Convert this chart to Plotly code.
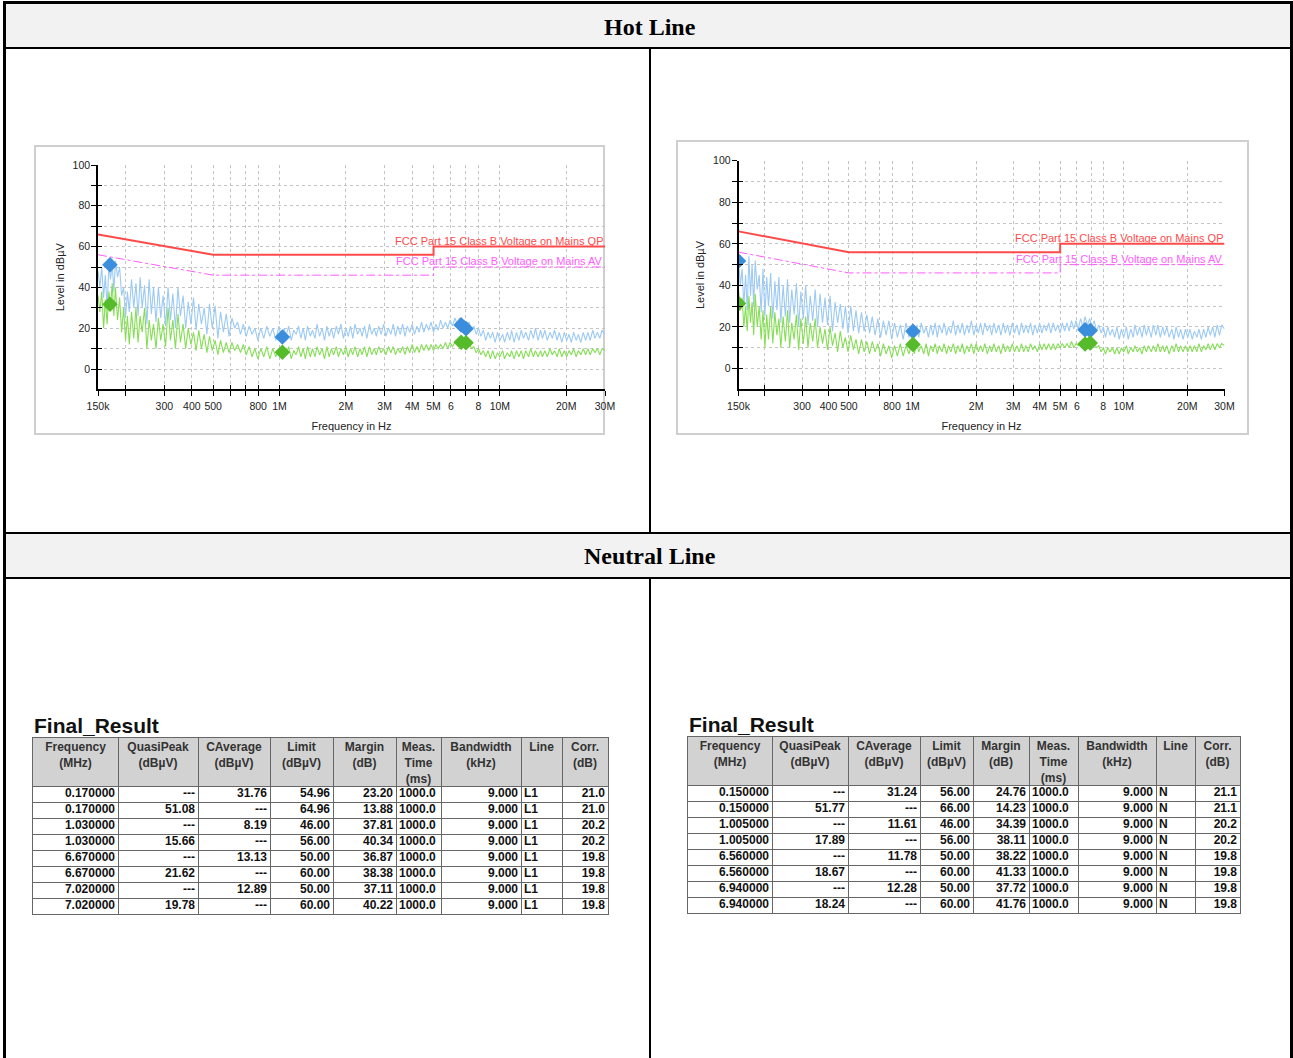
import math
import plotly.graph_objects as go

W, H = 1293, 1058

# ---------------- data ----------------
freq_mhz = [
    0.150, 0.153, 0.156, 0.159, 0.162, 0.165, 0.168, 0.171, 0.174, 0.177,
    0.180, 0.184, 0.188, 0.192, 0.196, 0.200, 0.204, 0.208, 0.213, 0.218,
    0.223, 0.228, 0.233, 0.238, 0.244, 0.250, 0.256, 0.262, 0.268, 0.275,
    0.282, 0.289, 0.296, 0.304, 0.312, 0.320, 0.328, 0.337, 0.346, 0.355,
    0.365, 0.375, 0.385, 0.396, 0.407, 0.418, 0.430, 0.442, 0.455, 0.468,
    0.481, 0.495, 0.510, 0.525, 0.540, 0.556, 0.573, 0.590, 0.608, 0.626,
    0.645, 0.665, 0.685, 0.706, 0.728, 0.750, 0.773, 0.797, 0.822, 0.848,
    0.875, 0.903, 0.932, 0.962, 0.993,
    1.02, 1.05, 1.07, 1.10, 1.13, 1.16, 1.19, 1.22, 1.25, 1.28,
    1.31, 1.34, 1.38, 1.41, 1.45, 1.48, 1.52, 1.56, 1.60, 1.64,
    1.68, 1.72, 1.76, 1.81, 1.85, 1.90, 1.95, 2.00, 2.05, 2.10,
    2.15, 2.20, 2.26, 2.32, 2.37, 2.43, 2.49, 2.56, 2.62, 2.69,
    2.75, 2.82, 2.89, 2.97, 3.04, 3.12, 3.20, 3.28, 3.36, 3.44,
    3.53, 3.62, 3.71, 3.80, 3.90, 4.00, 4.10, 4.20, 4.30, 4.41,
    4.52, 4.64, 4.75, 4.87, 5.00, 5.12, 5.25, 5.38, 5.52, 5.66,
    5.80, 5.94, 6.09, 6.25, 6.40, 6.56, 6.73, 6.90, 7.07, 7.25,
    7.43, 7.62, 7.81, 8.00, 8.20, 8.41, 8.62, 8.84, 9.06, 9.28,
    9.52, 9.75, 10.0, 10.3, 10.5, 10.8, 11.1, 11.3, 11.6, 11.9,
    12.2, 12.5, 12.8, 13.1, 13.5, 13.8, 14.2, 14.5, 14.9, 15.3,
    15.6, 16.0, 16.4, 16.9, 17.3, 17.7, 18.2, 18.6, 19.1, 19.6,
    20.1, 20.6, 21.1, 21.6, 22.2, 22.7, 23.3, 23.9, 24.5, 25.1,
    25.7, 26.4, 27.0, 27.7, 28.4, 29.1, 30.0,
]

hot_peak = [
    48, 40, 50, 35, 46, 30, 51, 44, 52, 38,
    53, 45, 50, 36, 40, 25, 38, 28, 44, 30,
    42, 26, 45, 30, 41, 22, 44, 27, 40, 23,
    40, 25, 36, 21, 40, 24, 37, 20, 40, 26,
    36, 20, 33, 22, 35, 19, 32, 22, 30, 17,
    32, 20, 31, 15, 28, 18, 27, 16, 25, 20,
    23, 17, 22, 16, 21, 17, 20, 14, 20, 15,
    21, 16, 20, 14, 21,
    15, 20, 16, 21, 14, 19, 17, 21, 15, 20,
    14, 21, 16, 19, 15, 22, 16, 20, 14, 21,
    16, 20, 15, 21, 17, 22, 15, 20, 16, 21,
    15, 22, 17, 20, 16, 21, 15, 22, 17, 20,
    16, 21, 17, 22, 16, 20, 17, 22, 16, 21,
    17, 22, 16, 21, 18, 22, 17, 21, 18, 23,
    18, 22, 19, 23, 18, 22, 19, 24, 20, 23,
    20, 24, 21, 25, 22, 25, 22, 24, 21, 23,
    19, 21, 17, 20, 16, 19, 14, 18, 15, 18,
    13, 18, 14, 17, 13, 18, 14, 19, 13, 18,
    14, 19, 15, 18, 14, 19, 15, 20, 14, 19,
    15, 19, 14, 18, 15, 19, 14, 18, 13, 18,
    14, 17, 13, 18, 14, 17, 13, 18, 14, 18,
    14, 19, 15, 18, 15, 19, 17,
]
hot_avg = [
    36, 28, 38, 20, 34, 22, 38, 30, 42, 26,
    40, 24, 35, 18, 30, 14, 26, 12, 28, 15,
    30, 13, 26, 18, 30, 10, 24, 14, 22, 10,
    25, 14, 22, 11, 30, 14, 24, 10, 27, 13,
    22, 10, 20, 12, 18, 9, 19, 10, 17, 8,
    16, 9, 14, 7, 14, 8, 13, 8, 13, 9,
    12, 8, 12, 7, 11, 6, 10, 5, 10, 6,
    11, 5, 10, 6, 10,
    6, 10, 7, 11, 5, 9, 7, 11, 6, 10,
    5, 11, 6, 10, 6, 11, 7, 10, 5, 11,
    6, 10, 7, 11, 6, 10, 7, 11, 6, 10,
    7, 11, 6, 10, 7, 11, 6, 11, 7, 10,
    7, 11, 8, 10, 7, 11, 8, 11, 7, 10,
    8, 11, 7, 11, 8, 12, 8, 11, 8, 12,
    9, 12, 9, 12, 9, 12, 10, 12, 10, 13,
    10, 13, 11, 13, 12, 14, 12, 14, 12, 13,
    10, 11, 8, 10, 7, 9, 6, 9, 5, 9,
    5, 8, 6, 9, 5, 8, 6, 9, 5, 9,
    6, 9, 5, 9, 6, 10, 6, 9, 6, 9,
    6, 9, 6, 10, 7, 9, 6, 10, 6, 9,
    6, 9, 7, 10, 6, 9, 7, 10, 7, 10,
    7, 10, 8, 10, 7, 10, 9,
]
neu_peak = [
    52, 40, 48, 30, 45, 28, 54, 35, 50, 30,
    52, 38, 45, 27, 48, 25, 44, 30, 46, 24,
    42, 28, 44, 22, 40, 25, 43, 22, 38, 26,
    41, 20, 37, 24, 40, 21, 35, 23, 38, 20,
    36, 22, 34, 21, 35, 18, 32, 22, 31, 19,
    30, 17, 30, 18, 28, 17, 27, 18, 26, 17,
    25, 16, 24, 15, 23, 16, 23, 14, 22, 15,
    21, 14, 22, 15, 21,
    16, 21, 15, 22, 17, 20, 15, 21, 16, 22,
    15, 21, 17, 22, 16, 20, 17, 23, 16, 21,
    17, 22, 16, 21, 17, 23, 16, 21, 17, 22,
    16, 22, 18, 21, 16, 22, 17, 21, 16, 22,
    17, 21, 16, 22, 17, 21, 16, 22, 17, 21,
    17, 22, 16, 21, 17, 22, 17, 21, 18, 22,
    17, 22, 18, 21, 17, 22, 18, 22, 18, 23,
    19, 23, 19, 24, 20, 25, 21, 24, 20, 23,
    18, 21, 17, 20, 15, 20, 16, 19, 15, 20,
    14, 19, 15, 20, 14, 19, 15, 21, 16, 20,
    15, 21, 16, 20, 15, 21, 16, 21, 15, 20,
    16, 20, 15, 19, 14, 20, 15, 19, 14, 19,
    15, 19, 14, 18, 15, 19, 14, 19, 15, 20,
    16, 20, 15, 21, 16, 21, 19,
]
neu_avg = [
    38, 28, 34, 20, 30, 18, 35, 22, 32, 16,
    36, 20, 30, 14, 28, 10, 26, 14, 30, 12,
    27, 16, 24, 10, 25, 13, 28, 10, 22, 14,
    26, 9, 24, 12, 25, 10, 22, 13, 24, 10,
    20, 12, 19, 9, 20, 11, 17, 8, 18, 10,
    15, 8, 16, 9, 14, 7, 14, 8, 13, 7,
    13, 8, 12, 6, 12, 7, 11, 5, 11, 6,
    12, 6, 11, 7, 12,
    7, 12, 8, 11, 7, 12, 6, 11, 8, 12,
    7, 11, 8, 12, 7, 11, 8, 12, 7, 11,
    8, 12, 7, 11, 8, 12, 7, 12, 8, 11,
    8, 12, 7, 11, 8, 12, 8, 11, 7, 12,
    8, 11, 8, 12, 8, 11, 8, 12, 8, 11,
    8, 12, 9, 11, 8, 12, 9, 12, 9, 12,
    9, 12, 9, 12, 10, 12, 10, 12, 10, 13,
    10, 12, 11, 13, 11, 13, 12, 13, 11, 12,
    10, 11, 8, 10, 7, 10, 8, 10, 7, 10,
    7, 10, 8, 11, 7, 10, 8, 11, 8, 10,
    7, 11, 8, 11, 8, 11, 8, 12, 8, 11,
    8, 11, 7, 11, 8, 12, 8, 11, 8, 11,
    8, 11, 8, 11, 8, 12, 8, 11, 9, 12,
    9, 12, 9, 12, 10, 12, 11,
]
for s in (hot_peak, hot_avg, neu_peak, neu_avg):
    assert len(s) == len(freq_mhz), (len(s), len(freq_mhz))

limit_freq = [0.15, 0.5, 5, 5, 30]
limit_qp = [66, 56, 56, 60, 60]
limit_av = [56, 46, 46, 50, 50]
limit_qp_name = "FCC Part 15 Class B Voltage on Mains QP"
limit_av_name = "FCC Part 15 Class B Voltage on Mains AV"

x_tick_vals = [0.15, 0.2, 0.3, 0.4, 0.5, 0.6, 0.7, 0.8, 1, 2, 3, 4, 5, 6, 7, 8, 10, 20, 30]
x_tick_text = ["150k", "", "300", "400", "500", "", "", "800", "1M", "2M", "3M", "4M",
               "5M", "6", "", "8", "10M", "20M", "30M"]
y_tick_vals = [0, 10, 20, 30, 40, 50, 60, 70, 80, 90, 100]
y_tick_text = ["0", "", "20", "", "40", "", "60", "", "80", "", "100"]

# Final results
hot_f = [0.170000, 0.170000, 1.030000, 1.030000, 6.670000, 6.670000, 7.020000, 7.020000]
hot_qp = [None, 51.08, None, 15.66, None, 21.62, None, 19.78]
hot_cav = [31.76, None, 8.19, None, 13.13, None, 12.89, None]
hot_limit = [54.96, 64.96, 46.00, 56.00, 50.00, 60.00, 50.00, 60.00]
hot_margin = [23.20, 13.88, 37.81, 40.34, 36.87, 38.38, 37.11, 40.22]
hot_corr = [21.0, 21.0, 20.2, 20.2, 19.8, 19.8, 19.8, 19.8]
hot_line = "L1"

neu_f = [0.150000, 0.150000, 1.005000, 1.005000, 6.560000, 6.560000, 6.940000, 6.940000]
neu_qp = [None, 51.77, None, 17.89, None, 18.67, None, 18.24]
neu_cav = [31.24, None, 11.61, None, 11.78, None, 12.28, None]
neu_limit = [56.00, 66.00, 46.00, 56.00, 50.00, 60.00, 50.00, 60.00]
neu_margin = [24.76, 14.23, 34.39, 38.11, 38.22, 41.33, 37.72, 41.76]
neu_corr = [21.1, 21.1, 20.2, 20.2, 19.8, 19.8, 19.8, 19.8]
neu_line = "N"

meas_time = 1000.0
bandwidth = 9.000

table_headers = ["Frequency<br>(MHz)", "QuasiPeak<br>(dBµV)", "CAverage<br>(dBµV)",
                 "Limit<br>(dBµV)", "Margin<br>(dB)", "Meas.<br>Time<br>(ms)",
                 "Bandwidth<br>(kHz)", "Line", "Corr.<br>(dB)"]


# ---------------- helpers / styling ----------------
def px(x):
    return x / W


def py(y):
    return 1 - y / H


CHART_FONT = "Liberation Sans Narrow, Arial Narrow, Liberation Sans, Arial, sans-serif"
TABLE_FONT = "Liberation Sans, Arial, sans-serif"
SERIF = "Liberation Serif, Times New Roman, serif"

BLUE_TRACE = "#9ccaf4"
GREEN_TRACE = "#86de56"
BLUE_MARK = "#3b8edb"
GREEN_MARK = "#55bb2a"
RED = "#ff4a4a"
MAGENTA = "#ff5cff"
TABLE_LINE = "#666666"

fig = go.Figure()
annotations = []
shapes = []
layout_axes = {}


def axis_key(prefix, ref):
    return prefix + ("" if len(ref) == 1 else ref[1:])


# ---------------- charts ----------------
charts = [
    dict(xa="x", ya="y", xo="x3", yo="y3", peak=hot_peak, avg=hot_avg,
         mf=hot_f, mqp=hot_qp, mav=hot_cav,
         xdom=[px(98), px(605)], ydom=[py(389.4), py(165)]),
    dict(xa="x2", ya="y2", xo="x4", yo="y4", peak=neu_peak, avg=neu_avg,
         mf=neu_f, mqp=neu_qp, mav=neu_cav,
         xdom=[px(738.5), px(1224.5)], ydom=[py(389.3), py(160.7)]),
]

for c in charts:
    fig.add_trace(go.Scatter(x=freq_mhz, y=c["peak"], mode="lines",
                             line=dict(color=BLUE_TRACE, width=1.1),
                             xaxis=c["xa"], yaxis=c["ya"], hoverinfo="skip"))
    fig.add_trace(go.Scatter(x=freq_mhz, y=c["avg"], mode="lines",
                             line=dict(color=GREEN_TRACE, width=1.1),
                             xaxis=c["xa"], yaxis=c["ya"], hoverinfo="skip"))
    fig.add_trace(go.Scatter(x=limit_freq, y=limit_av, mode="lines",
                             line=dict(color=MAGENTA, width=1, dash="dashdot"),
                             xaxis=c["xa"], yaxis=c["ya"], hoverinfo="skip"))
    fig.add_trace(go.Scatter(x=limit_freq, y=limit_qp, mode="lines",
                             line=dict(color=RED, width=2),
                             xaxis=c["xa"], yaxis=c["ya"], hoverinfo="skip"))
    qf = [f for f, v in zip(c["mf"], c["mqp"]) if v is not None]
    qv = [v for v in c["mqp"] if v is not None]
    af = [f for f, v in zip(c["mf"], c["mav"]) if v is not None]
    av = [v for v in c["mav"] if v is not None]
    fig.add_trace(go.Scatter(x=qf, y=qv, mode="markers",
                             marker=dict(symbol="diamond", size=12, color=BLUE_MARK),
                             xaxis=c["xa"], yaxis=c["ya"], hoverinfo="skip"))
    fig.add_trace(go.Scatter(x=af, y=av, mode="markers",
                             marker=dict(symbol="diamond", size=12, color=GREEN_MARK),
                             xaxis=c["xa"], yaxis=c["ya"], hoverinfo="skip"))
    # empty traces so the overlay axes (inside tick marks) are drawn
    fig.add_trace(go.Scatter(x=[], y=[], xaxis=c["xo"], yaxis=c["ya"], hoverinfo="skip"))
    fig.add_trace(go.Scatter(x=[], y=[], xaxis=c["xa"], yaxis=c["yo"], hoverinfo="skip"))

    annotations.append(dict(xref=c["xa"], yref=c["ya"], x=math.log10(limit_freq[-1]),
                            y=limit_qp[-1], xanchor="right", yanchor="bottom",
                            text=limit_qp_name, showarrow=False, yshift=-2,
                            font=dict(family=CHART_FONT, size=11, color=RED)))
    annotations.append(dict(xref=c["xa"], yref=c["ya"], x=math.log10(limit_freq[-1]),
                            y=limit_av[-1], xanchor="right", yanchor="bottom",
                            text=limit_av_name, showarrow=False, yshift=-2,
                            font=dict(family=CHART_FONT, size=11, color=MAGENTA)))

xrange = [math.log10(limit_freq[0]), math.log10(limit_freq[-1])]
tickfont = dict(family=CHART_FONT, size=10.5, color="#222")
titlefont = dict(family=CHART_FONT, size=11, color="#222")

for c in charts:
    common_grid = dict(showgrid=True, gridcolor="#c4c4c4", griddash="dot", gridwidth=1)
    layout_axes[axis_key("xaxis", c["xa"])] = dict(
        type="log", domain=c["xdom"], range=xrange, anchor=c["ya"],
        tickmode="array", tickvals=x_tick_vals, ticktext=x_tick_text,
        ticks="outside", ticklen=5, tickwidth=1, tickcolor="#000",
        showline=True, linecolor="#000", linewidth=1.5, automargin=False,
        zeroline=False, tickfont=tickfont, fixedrange=True, ticklabelstandoff=1,
        title=dict(text="Frequency in Hz", font=titlefont, standoff=12), **common_grid)
    layout_axes[axis_key("yaxis", c["ya"])] = dict(
        domain=c["ydom"], range=[-10, 100], anchor=c["xa"],
        tickmode="array", tickvals=y_tick_vals, ticktext=y_tick_text,
        ticks="outside", ticklen=5, tickwidth=1, tickcolor="#000",
        showline=True, linecolor="#000", linewidth=1.5, automargin=False,
        zeroline=False, tickfont=tickfont, fixedrange=True, ticklabelstandoff=-1,
        title=dict(text="Level in dBµV", font=titlefont, standoff=6), **common_grid)
    layout_axes[axis_key("xaxis", c["xo"])] = dict(
        type="log", domain=c["xdom"], range=xrange, anchor=c["ya"],
        overlaying=c["xa"], side="bottom", automargin=False,
        tickmode="array", tickvals=x_tick_vals, ticks="inside",
        ticklen=4, tickwidth=1, tickcolor="#000",
        showticklabels=False, showgrid=False, showline=False,
        zeroline=False, fixedrange=True)
    layout_axes[axis_key("yaxis", c["yo"])] = dict(
        domain=c["ydom"], range=[-10, 100], anchor=c["xa"],
        overlaying=c["ya"], side="left", automargin=False,
        tickmode="array", tickvals=y_tick_vals, ticks="inside",
        ticklen=4, tickwidth=1, tickcolor="#000",
        showticklabels=False, showgrid=False, showline=False,
        zeroline=False, fixedrange=True)


# ---------------- tables (drawn on their own cartesian axes) ----------------
def fmt(v, nd):
    return "---" if v is None else f"{v:.{nd}f}"


def table_columns(f, qp, cav, lim, mar, corr, line):
    n = len(f)
    return [
        [f"{v:.6f}" for v in f],
        [fmt(v, 2) for v in qp],
        [fmt(v, 2) for v in cav],
        [f"{v:.2f}" for v in lim],
        [f"{v:.2f}" for v in mar],
        [f"{meas_time:.1f}"] * n,
        [f"{bandwidth:.3f}"] * n,
        [line] * n,
        [f"{v:.1f}" for v in corr],
    ]


HEADER_UNITS = 3  # header is three text lines tall; each data row is one unit
cell_align = ["right", "right", "right", "right", "right", "left", "right", "left", "right"]

tables = [
    dict(cols=table_columns(hot_f, hot_qp, hot_cav, hot_limit, hot_margin, hot_corr, hot_line),
         bounds=[33, 118, 198, 270, 333, 396, 441, 521, 562, 608], top=738, row_px=16,
         xa="x5", ya="y5"),
    dict(cols=table_columns(neu_f, neu_qp, neu_cav, neu_limit, neu_margin, neu_corr, neu_line),
         bounds=[688, 772, 848, 920, 973, 1029, 1078, 1156, 1195, 1240], top=737, row_px=16,
         xa="x6", ya="y6"),
]

for t in tables:
    b = t["bounds"]
    edges = [v - b[0] for v in b]  # column edges in table units (px)
    nrows = len(t["cols"][0])
    total_units = HEADER_UNITS + nrows
    bottom = t["top"] + total_units * t["row_px"]

    # header background
    shapes.append(dict(type="rect", xref=t["xa"], yref=t["ya"], x0=edges[0], x1=edges[-1],
                       y0=0, y1=HEADER_UNITS, fillcolor="#d2d2d2",
                       line=dict(width=0), layer="below"))

    # header text, one line per text row
    hx, hy, ht = [], [], []
    for ci, h in enumerate(table_headers):
        for k, part in enumerate(h.split("<br>")):
            hx.append((edges[ci] + edges[ci + 1]) / 2)
            hy.append(0.62 + k)
            ht.append(part)
    fig.add_trace(go.Scatter(x=hx, y=hy, text=ht, mode="text", textposition="middle center",
                             textfont=dict(family=TABLE_FONT, size=12, color="#333", weight="bold"),
                             xaxis=t["xa"], yaxis=t["ya"], hoverinfo="skip"))

    # body text, grouped by alignment
    for align in ("right", "left"):
        cx, cy, ct = [], [], []
        for ci, col in enumerate(t["cols"]):
            if cell_align[ci] != align:
                continue
            for ri, val in enumerate(col):
                cx.append(edges[ci + 1] - 3 if align == "right" else edges[ci] + 3)
                cy.append(HEADER_UNITS + ri + 0.5)
                ct.append(val)
        fig.add_trace(go.Scatter(
            x=cx, y=cy, text=ct, mode="text",
            textposition="middle left" if align == "right" else "middle right",
            textfont=dict(family=TABLE_FONT, size=12, color="#111", weight="bold"),
            xaxis=t["xa"], yaxis=t["ya"], hoverinfo="skip"))

    layout_axes[axis_key("xaxis", t["xa"])] = dict(
        domain=[px(b[0]), px(b[-1])], range=[edges[0], edges[-1]], anchor=t["ya"],
        tickmode="array", tickvals=edges, showticklabels=False, ticks="",
        showgrid=True, gridcolor=TABLE_LINE, gridwidth=1, zeroline=False,
        showline=True, mirror=True, linecolor=TABLE_LINE, linewidth=1,
        automargin=False, fixedrange=True)
    layout_axes[axis_key("yaxis", t["ya"])] = dict(
        domain=[py(bottom), py(t["top"])], range=[total_units, 0], anchor=t["xa"],
        tickmode="array", tickvals=list(range(HEADER_UNITS, total_units + 1)),
        showticklabels=False, ticks="",
        showgrid=True, gridcolor=TABLE_LINE, gridwidth=1, zeroline=False,
        showline=True, mirror=True, linecolor=TABLE_LINE, linewidth=1,
        automargin=False, fixedrange=True)

    annotations.append(dict(xref="paper", yref="paper", x=px(b[0] - 1), y=py(t["top"] - 13),
                            xanchor="left", yanchor="middle", showarrow=False,
                            text="<b>Final_Result</b>",
                            font=dict(family=TABLE_FONT, size=21, color="#111")))


# ---------------- page frame ----------------
def rect(x0, y0, x1, y1, fill=None, line_color=None, lw=0):
    d = dict(type="rect", xref="paper", yref="paper", x0=px(x0), x1=px(x1), y0=py(y1), y1=py(y0),
             layer="below")
    if fill:
        d["fillcolor"] = fill
    d["line"] = dict(color=line_color or "rgba(0,0,0,0)", width=lw)
    return d


def seg(x0, y0, x1, y1, w=2, color="#000"):
    return dict(type="line", xref="paper", yref="paper", x0=px(x0), x1=px(x1), y0=py(y0), y1=py(y1),
                line=dict(color=color, width=w), layer="above")


shapes.append(rect(6, 4, 1292, 47, fill="#f2f2f2"))
shapes.append(rect(6, 534, 1292, 577, fill="#f2f2f2"))
shapes.append(rect(35, 146, 604, 434, line_color="#cfcfcf", lw=2))
shapes.append(rect(677, 141, 1248, 434, line_color="#cfcfcf", lw=2))
shapes += [
    seg(3, 2.5, 1293, 2.5, 3),
    seg(4.5, 1, 4.5, 1058, 3),
    seg(1291.5, 1, 1291.5, 1058, 3),
    seg(4, 48, 1293, 48, 2),
    seg(4, 533, 1293, 533, 2),
    seg(4, 578, 1293, 578, 2),
    seg(650, 48, 650, 533, 2),
    seg(650, 578, 650, 1058, 2),
]

annotations.append(dict(xref="paper", yref="paper", x=px(650), y=py(27), showarrow=False,
                        text="<b>Hot Line</b>", xanchor="center", yanchor="middle",
                        font=dict(family=SERIF, size=24, color="#000")))
annotations.append(dict(xref="paper", yref="paper", x=px(650), y=py(556), showarrow=False,
                        text="<b>Neutral Line</b>", xanchor="center", yanchor="middle",
                        font=dict(family=SERIF, size=24, color="#000")))

fig.update_layout(
    template="none",
    width=W, height=H, margin=dict(l=0, r=0, t=0, b=0, pad=0, autoexpand=False),
    paper_bgcolor="white", plot_bgcolor="white",
    font=dict(family=CHART_FONT, color="#222"),
    showlegend=False, shapes=shapes, annotations=annotations,
    **layout_axes,
)

fig.write_html("out.html", post_script="document.body.style.margin='0';",
               config={"displayModeBar": False})
